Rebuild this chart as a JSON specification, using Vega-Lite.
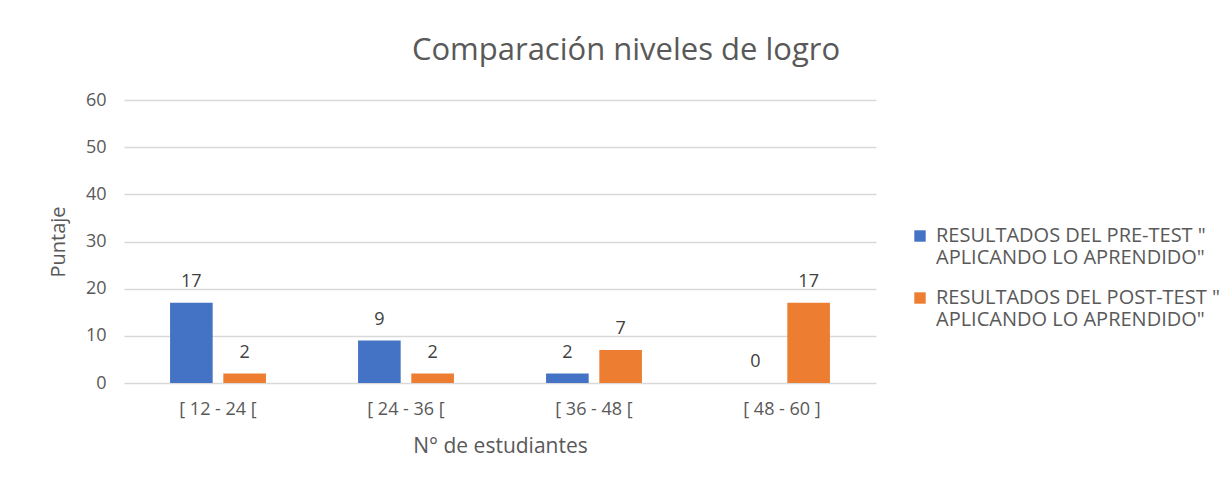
{
  "$schema": "https://vega.github.io/schema/vega-lite/v6.json",
  "autosize": {"type": "none"},
  "width": 752,
  "height": 283,
  "padding": {"left": 124, "top": 100, "right": 352, "bottom": 96},
  "background": "white",
  "config": {
    "font": "Open Sans",
    "view": {"stroke": null},
    "axis": {"labelColor": "#595959", "titleColor": "#595959", "labelFont": "Open Sans", "titleFont": "Open Sans", "titleFontWeight": "normal", "ticks": false, "domain": false},
    "axisY": {"labelFontSize": 18, "titleFontSize": 20, "gridColor": "#d9d9d9", "gridWidth": 1.5},
    "axisX": {"labelFontSize": 18, "titleFontSize": 21}
  },
  "title": {
    "text": "Comparación niveles de logro",
    "fontSize": 31,
    "fontWeight": "normal",
    "color": "#595959",
    "font": "Open Sans",
    "anchor": "middle",
    "dx": 126,
    "offset": 24
  },
  "data": {
    "values": [
      {"rango": "[ 12 - 24 [", "serie": "pre", "valor": 17},
      {"rango": "[ 12 - 24 [", "serie": "post", "valor": 2},
      {"rango": "[ 24 - 36 [", "serie": "pre", "valor": 9},
      {"rango": "[ 24 - 36 [", "serie": "post", "valor": 2},
      {"rango": "[ 36 - 48 [", "serie": "pre", "valor": 2},
      {"rango": "[ 36 - 48 [", "serie": "post", "valor": 7},
      {"rango": "[ 48 - 60 ]", "serie": "pre", "valor": 0},
      {"rango": "[ 48 - 60 ]", "serie": "post", "valor": 17}
    ]
  },
  "encoding": {
    "x": {
      "field": "rango",
      "type": "nominal",
      "sort": null,
      "scale": {"paddingInner": 0.49, "paddingOuter": 0.245},
      "axis": {
        "title": "N° de estudiantes",
        "titleFontSize": 21,
        "titlePadding": 17,
        "labelFontSize": 18,
        "labelAngle": 0,
        "labelPadding": 17,
        "ticks": false,
        "domain": false
      }
    },
    "xOffset": {
      "field": "serie",
      "type": "nominal",
      "sort": ["pre", "post"],
      "scale": {"paddingInner": 0.2, "paddingOuter": 0}
    },
    "y": {
      "field": "valor",
      "type": "quantitative",
      "scale": {"domain": [0, 60], "nice": false},
      "axis": {
        "title": "Puntaje",
        "titleFontSize": 20,
        "titlePadding": 17,
        "labelFontSize": 18,
        "labelPadding": 18,
        "values": [0, 10, 20, 30, 40, 50, 60],
        "ticks": false,
        "domain": false,
        "gridColor": "#d9d9d9",
        "gridWidth": 1.5
      }
    }
  },
  "layer": [
    {
      "mark": {"type": "bar"},
      "encoding": {
        "color": {
          "field": "serie",
          "type": "nominal",
          "sort": ["pre", "post"],
          "scale": {"domain": ["pre", "post"], "range": ["#4472C4", "#ED7D31"]},
          "legend": {
            "title": null,
            "orient": "none",
            "legendX": 786,
            "legendY": 126,
            "symbolType": "square",
            "symbolSize": 130,
            "symbolStrokeWidth": 0,
            "labelFontSize": 20,
            "labelColor": "#595959",
            "labelFont": "Open Sans",
            "labelLimit": 400,
            "labelOffset": 6,
            "rowPadding": 20,
            "labelExpr": "datum.label == 'pre' ? ['RESULTADOS DEL PRE-TEST \"', 'APLICANDO LO APRENDIDO\"'] : ['RESULTADOS DEL POST-TEST \"', 'APLICANDO LO APRENDIDO\"']"
          }
        }
      }
    },
    {
      "mark": {"type": "text", "baseline": "bottom", "dy": -12, "fontSize": 18, "color": "#404040", "font": "Open Sans"},
      "encoding": {
        "text": {"field": "valor", "type": "quantitative"}
      }
    }
  ]
}
